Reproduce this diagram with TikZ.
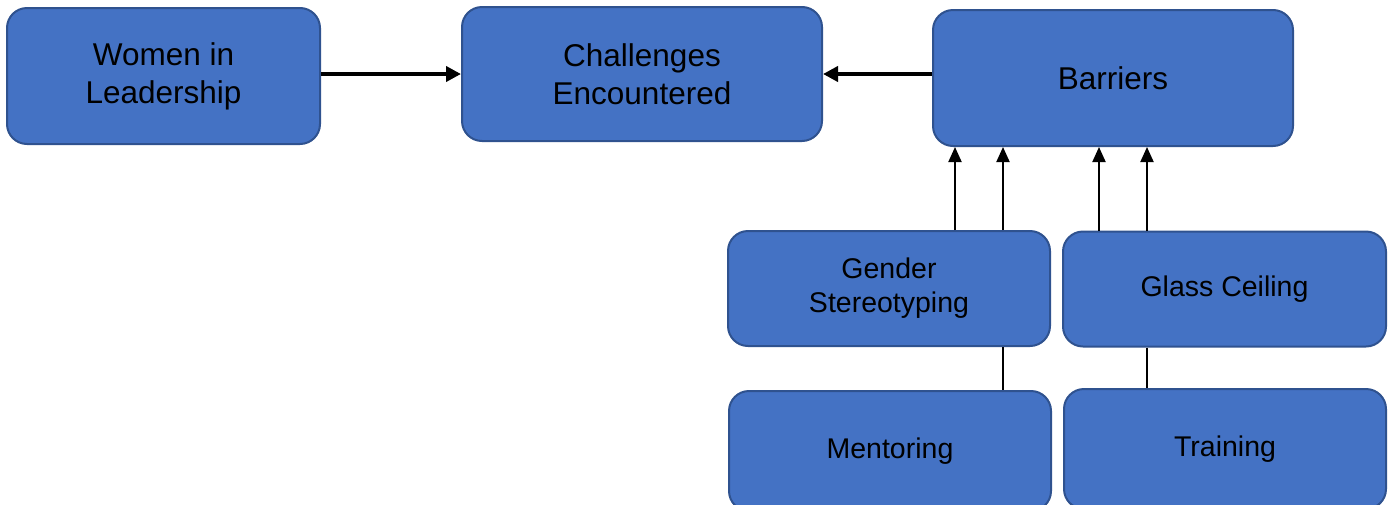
\documentclass[tikz,border=0pt]{standalone}
\usepackage{fontspec}
\setmainfont{Liberation Sans}
\usetikzlibrary{arrows.meta}
\definecolor{boxfill}{HTML}{4472C4}
\definecolor{boxline}{HTML}{2F528F}
\tikzset{
  box/.style={draw=boxline, line width=2pt, fill=boxfill, rounded corners=20pt,
    inner sep=0pt, align=center, text=black},
  bigtext/.style={font=\fontsize{31.5}{38}\selectfont},
  smalltext/.style={font=\fontsize{28.5}{34}\selectfont},
  mainarrow/.style={line width=4pt, -{Triangle[length=15pt,width=15pt]}},
  feedarrow/.style={line width=2pt, -{Triangle[length=15pt,width=13pt]}},
  link/.style={line width=2pt}
}
\begin{document}
\begin{tikzpicture}[x=1pt, y=-1pt]
  \useasboundingbox (0,0) rectangle (1395,504);
  \clip (0,0) rectangle (1395,504);

  % top row
  \node[box, bigtext, minimum width=313pt, minimum height=136pt] (wl) at (163.5,76)
    {Women in\\Leadership};
  \node[box, bigtext, minimum width=360pt, minimum height=134pt] (ch) at (642,74)
    {Challenges\\Encountered};
  \node[box, bigtext, minimum width=360pt, minimum height=136pt] (ba) at (1113,78)
    {Barriers};

  % barrier categories
  \node[box, smalltext, minimum width=322pt, minimum height=115pt] (gs) at (889,288.5)
    {Gender\\Stereotyping};
  \node[box, smalltext, minimum width=323pt, minimum height=115pt] (gc) at (1224.5,289)
    {Glass Ceiling};

  % responses
  \node[box, smalltext, minimum width=322pt, minimum height=120pt] (me) at (890,451)
    {Mentoring};
  \node[box, smalltext, minimum width=322pt, minimum height=120pt] (tr) at (1225,449)
    {Training};

  % main flow
  \draw[mainarrow] (wl.east |- ch.west) -- (ch.west);
  \draw[mainarrow] (ba.west |- ch.east) -- (ch.east);

  % feeds into barriers
  \draw[feedarrow] ([xshift=66pt]gs.north) -- ([xshift=66pt]gs.north |- ba.south);
  \draw[feedarrow] ([xshift=114pt]gs.north) -- ([xshift=114pt]gs.north |- ba.south);
  \draw[feedarrow] ([xshift=-125.5pt]gc.north) -- ([xshift=-125.5pt]gc.north |- ba.south);
  \draw[feedarrow] ([xshift=-77.5pt]gc.north) -- ([xshift=-77.5pt]gc.north |- ba.south);

  % links to responses
  \draw[link] ([xshift=114pt]gs.south) -- ([xshift=114pt]gs.south |- me.north);
  \draw[link] ([xshift=-77.5pt]gc.south) -- ([xshift=-77.5pt]gc.south |- tr.north);
\end{tikzpicture}
\end{document}
